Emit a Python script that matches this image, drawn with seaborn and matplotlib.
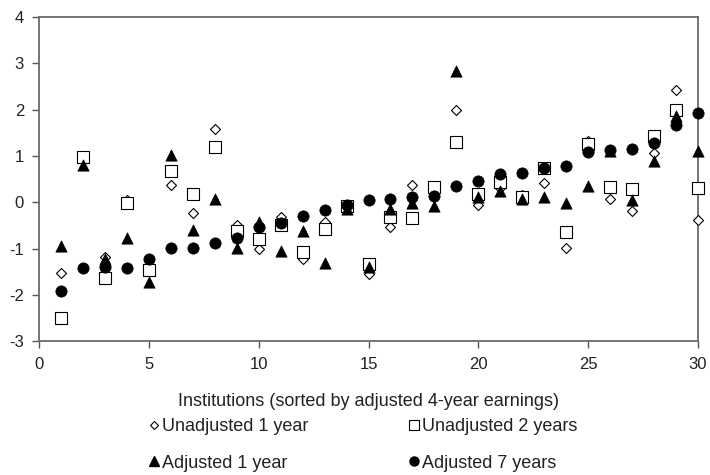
import matplotlib
matplotlib.use("Agg")
import matplotlib.pyplot as plt
import seaborn as sns
import numpy as np
from matplotlib.lines import Line2D

sns.set_style("white")
plt.rcParams['font.family'] = ['Liberation Sans', 'DejaVu Sans']
plt.rcParams['axes.unicode_minus'] = False

institutions = list(range(1, 31))

unadjusted_1yr = [-1.53, 1.00, -1.17, 0.05, -1.45, 0.38, -0.22, 1.58, -0.50, -1.00,
                  -0.32, -1.22, -0.43, -0.15, -1.55, -0.54, 0.38, 0.30, 1.99, -0.05,
                  0.30, 0.15, 0.42, -0.99, 1.32, 0.07, -0.18, 1.06, 2.41, -0.38]
unadjusted_2yr = [-2.50, 0.97, -1.63, -0.01, -1.47, 0.67, 0.18, 1.19, -0.61, -0.79,
                  -0.50, -1.08, -0.57, -0.08, -1.33, -0.32, -0.34, 0.32, 1.30, 0.18,
                  0.43, 0.11, 0.73, -0.63, 1.26, 0.32, 0.28, 1.42, 1.98, 0.30]
adjusted_1yr = [-0.94, 0.81, -1.22, -0.78, -1.71, 1.03, -0.59, 0.07, -0.98, -0.43,
                -1.06, -0.61, -1.30, -0.15, -1.40, -0.14, -0.02, -0.07, 2.84, 0.11,
                0.25, 0.07, 0.11, -0.01, 0.35, 1.10, 0.06, 0.89, 1.85, 1.10]
adjusted_7yr = [-1.91, -1.42, -1.40, -1.42, -1.22, -0.98, -0.98, -0.88, -0.76, -0.54,
                -0.45, -0.30, -0.16, -0.05, 0.05, 0.07, 0.11, 0.14, 0.36, 0.45,
                0.60, 0.63, 0.73, 0.79, 1.08, 1.12, 1.14, 1.27, 1.67, 1.93]

labels = ["Unadjusted 1 year", "Unadjusted 2 years", "Adjusted 1 year", "Adjusted 7 years"]
xticks = [0, 5, 10, 15, 20, 25, 30]
yticks = [-3, -2, -1, 0, 1, 2, 3, 4]

fig = plt.figure(figsize=(7.1, 4.75), dpi=100)
ax = fig.add_axes([0.0554, 0.2811, 0.9273, 0.6837])

sns.scatterplot(x=institutions, y=unadjusted_1yr, marker='D', s=26, color='white',
                edgecolor='black', linewidth=0.8, ax=ax, clip_on=False, zorder=3)
sns.scatterplot(x=institutions, y=unadjusted_2yr, marker='s', s=66, color='white',
                edgecolor='black', linewidth=0.8, ax=ax, clip_on=False, zorder=4)
sns.scatterplot(x=institutions, y=adjusted_1yr, marker='^', s=66, color='black',
                edgecolor='black', linewidth=0.5, ax=ax, clip_on=False, zorder=5)
sns.scatterplot(x=institutions, y=adjusted_7yr, marker='o', s=66, color='black',
                edgecolor='black', linewidth=0.5, ax=ax, clip_on=False, zorder=6)

ax.set_xlim(0, 30)
ax.set_ylim(-3, 4)
ax.set_xticks(xticks)
ax.set_yticks(yticks)
ax.tick_params(axis='both', which='both', direction='out', length=5, width=1,
               color='#555555', labelsize=12, labelcolor='#222222', pad=6,
               bottom=True, left=True)
for sp in ax.spines.values():
    sp.set_visible(True)
    sp.set_color('#6a6a6a')
    sp.set_linewidth(1.3)
ax.grid(False)

ax.set_xlabel("Institutions (sorted by adjusted 4-year earnings)", fontsize=13,
              color='#222222', labelpad=15)
ax.set_ylabel("")

hd = Line2D([], [], marker='D', ls='', markersize=4.2, markerfacecolor='white',
            markeredgecolor='black', markeredgewidth=0.8)
hs = Line2D([], [], marker='s', ls='', markersize=6.5, markerfacecolor='white',
            markeredgecolor='black', markeredgewidth=0.8)
ht = Line2D([], [], marker='^', ls='', markersize=6.5, markerfacecolor='black',
            markeredgecolor='black')
hc = Line2D([], [], marker='o', ls='', markersize=6.5, markerfacecolor='black',
            markeredgecolor='black')
fig.legend([hd, ht, hs, hc], [labels[0], labels[2], labels[1], labels[3]],
           ncol=2, loc='upper left', bbox_to_anchor=(149 / 710, 1 - 418 / 475),
           frameon=False, fontsize=13, handlelength=0.5, handletextpad=0.2,
           columnspacing=5.6, labelspacing=1.08, borderpad=0, borderaxespad=0,
           labelcolor='#222222')

fig.savefig("out.png", dpi=100)
